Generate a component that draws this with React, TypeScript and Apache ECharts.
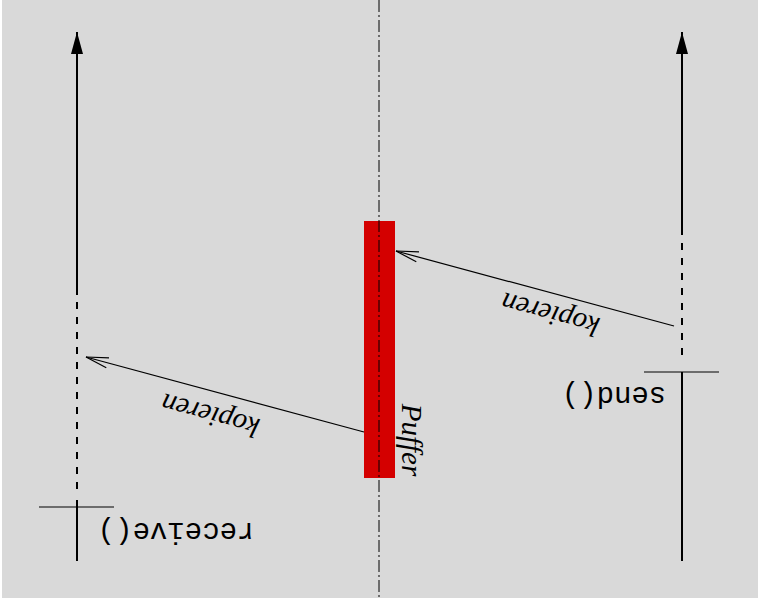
import React, { useEffect, useRef } from "react";
import * as echarts from "echarts";

// Diagram data (in the diagram's own coordinate units)
const solidLines = [
  [77, 32, 77, 295],
  [77, 500, 77, 561],
  [682, 32, 682, 235],
  [682, 372, 682, 561],
];
const dashedLines = [
  [77, 302, 77, 494],
  [682, 243, 682, 358],
];
const crossLines = [
  [39, 507, 114, 507],
  [644, 372, 719, 372],
];
const arrowTips = [
  [77, 32],
  [682, 32],
];
const copyArrows = [
  [674, 326, 396, 251],
  [364, 432, 86, 357],
];
const bufferBox = [[364, 221, 395, 478]];
const centerLine = [[379, 0, 379, 598]];
const callNames = ["receive()", "send()"];
const callLabelPos = [
  [176, 530],
  [614, 394],
];
const copyName = "kopieren";
const copyLabelPos = [
  [550, 315],
  [210, 416],
];
const bufferName = "Puffer";
const bufferLabelPos = [[412, 440]];

const BLACK = "#000000";

function lineSeries(data: number[][], width: number, dash?: number[]) {
  return {
    type: "custom",
    silent: true,
    data,
    renderItem: (_p: any, api: any) => {
      const a = api.coord([api.value(0), api.value(1)]);
      const b = api.coord([api.value(2), api.value(3)]);
      return {
        type: "line",
        shape: { x1: a[0], y1: a[1], x2: b[0], y2: b[1] },
        style: { stroke: BLACK, lineWidth: width, lineDash: dash || null, lineCap: "butt" },
      };
    },
  };
}

export default function App() {
  const ref = useRef<HTMLDivElement>(null);
  useEffect(() => {
    if (!ref.current) return;
    const chart = echarts.init(ref.current, undefined, { renderer: "svg" });
    const series: any[] = [
      {
        type: "custom",
        silent: true,
        data: bufferBox,
        renderItem: (_p: any, api: any) => {
          const a = api.coord([api.value(0), api.value(1)]);
          const b = api.coord([api.value(2), api.value(3)]);
          return {
            type: "rect",
            shape: {
              x: Math.min(a[0], b[0]),
              y: Math.min(a[1], b[1]),
              width: Math.abs(b[0] - a[0]),
              height: Math.abs(b[1] - a[1]),
            },
            style: { fill: "#d40000" },
          };
        },
      },
      lineSeries(centerLine, 1, [12, 3, 2, 3]),
      lineSeries(solidLines, 2),
      lineSeries(dashedLines, 2, [7, 8]),
      lineSeries(crossLines, 1.2),
      {
        type: "custom",
        silent: true,
        data: arrowTips,
        renderItem: (_p: any, api: any) => {
          const t = api.coord([api.value(0), api.value(1)]);
          return {
            type: "polygon",
            shape: {
              points: [
                [t[0], t[1]],
                [t[0] - 6, t[1] + 22],
                [t[0] + 6, t[1] + 22],
              ],
            },
            style: { fill: BLACK },
          };
        },
      },
      {
        type: "custom",
        silent: true,
        data: copyArrows,
        renderItem: (_p: any, api: any) => {
          const a = api.coord([api.value(0), api.value(1)]);
          const b = api.coord([api.value(2), api.value(3)]);
          const dx = a[0] - b[0];
          const dy = a[1] - b[1];
          const len = Math.sqrt(dx * dx + dy * dy);
          const ux = dx / len;
          const uy = dy / len;
          const L = 23;
          const th = (13 * Math.PI) / 180;
          const arm = (s: number) => {
            const c = Math.cos(s * th);
            const sn = Math.sin(s * th);
            return [b[0] + L * (ux * c - uy * sn), b[1] + L * (ux * sn + uy * c)];
          };
          const p1 = arm(1);
          const p2 = arm(-1);
          const st = { stroke: BLACK, lineWidth: 1.2 };
          return {
            type: "group",
            children: [
              { type: "line", shape: { x1: a[0], y1: a[1], x2: b[0], y2: b[1] }, style: st },
              { type: "line", shape: { x1: b[0], y1: b[1], x2: p1[0], y2: p1[1] }, style: st },
              { type: "line", shape: { x1: b[0], y1: b[1], x2: p2[0], y2: p2[1] }, style: st },
            ],
          };
        },
      },
      {
        type: "custom",
        silent: true,
        data: callLabelPos,
        renderItem: (p: any, api: any) => {
          const c = api.coord([api.value(0), api.value(1)]);
          return {
            type: "text",
            x: c[0],
            y: c[1],
            rotation: Math.PI,
            style: {
              text: callNames[p.dataIndex],
              fontFamily: "Liberation Mono",
              fontSize: 29,
              fill: BLACK,
              align: "center",
              verticalAlign: "middle",
            },
          };
        },
      },
      {
        type: "custom",
        silent: true,
        data: copyLabelPos,
        renderItem: (p: any, api: any) => {
          const c = api.coord([api.value(0), api.value(1)]);
          const arr = copyArrows[p.dataIndex];
          const ang = Math.atan2(-(arr[3] - arr[1]), arr[2] - arr[0]);
          return {
            type: "text",
            x: c[0],
            y: c[1],
            rotation: ang,
            style: {
              text: copyName,
              fontFamily: "Liberation Serif",
              fontStyle: "italic",
              fontSize: 29,
              fill: BLACK,
              align: "center",
              verticalAlign: "middle",
            },
          };
        },
      },
      {
        type: "custom",
        silent: true,
        data: bufferLabelPos,
        renderItem: (_p: any, api: any) => {
          const c = api.coord([api.value(0), api.value(1)]);
          return {
            type: "text",
            x: c[0],
            y: c[1],
            rotation: -Math.PI / 2,
            style: {
              text: bufferName,
              fontFamily: "Liberation Serif",
              fontStyle: "italic",
              fontSize: 29,
              fill: BLACK,
              align: "center",
              verticalAlign: "middle",
            },
          };
        },
      },
    ];
    chart.setOption({
      animation: false,
      backgroundColor: "#ffffff",
      grid: {
        left: 2,
        top: 0,
        width: 756,
        height: 598,
        show: true,
        backgroundColor: "#d9d9d9",
        borderWidth: 0,
      },
      xAxis: { type: "value", min: 2, max: 758, show: false },
      yAxis: { type: "value", min: 0, max: 598, inverse: true, show: false },
      series,
    });
    return () => chart.dispose();
  }, []);
  return (
    <div
      ref={ref}
      style={{ position: "absolute", left: 0, top: 0, width: 758, height: 605 }}
    />
  );
}
